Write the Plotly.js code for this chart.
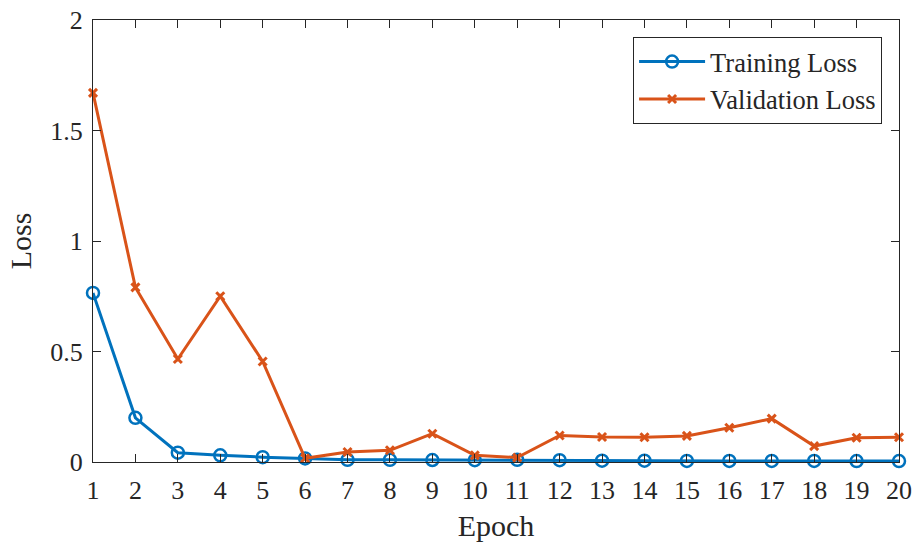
<!DOCTYPE html>
<html>
<head>
<meta charset="utf-8">
<script src="https://cdn.plot.ly/plotly-3.0.1.min.js"></script>
<style>html,body{margin:0;padding:0;background:#fff;}#chart{width:919px;height:548px;}</style>
</head>
<body>
<div id="chart"></div>
<script>
const epochs = [1,2,3,4,5,6,7,8,9,10,11,12,13,14,15,16,17,18,19,20];
const trainingLoss = [0.765,0.20,0.042,0.03,0.022,0.016,0.01,0.01,0.009,0.008,0.01,0.008,0.006,0.006,0.005,0.005,0.005,0.005,0.004,0.004];
const validationLoss = [1.67,0.79,0.466,0.75,0.455,0.017,0.045,0.053,0.128,0.03,0.02,0.12,0.113,0.112,0.118,0.155,0.196,0.072,0.11,0.112];
const xTicks = epochs;
const yTicks = [0,0.5,1,1.5,2];
const yTickText = ['0','0.5','1','1.5','2'];

const FONT = 'Liberation Serif, Times New Roman, serif';

const traces = [
  {
    x: epochs, y: trainingLoss, name: 'Training Loss', type: 'scatter', mode: 'lines+markers',
    line: {color: '#0072BD', width: 3},
    marker: {symbol: 'circle-open', size: 12, color: '#0072BD', line: {width: 2.5, color: '#0072BD'}},
    cliponaxis: false
  },
  {
    x: epochs, y: validationLoss, name: 'Validation Loss', type: 'scatter', mode: 'lines+markers',
    line: {color: '#D95319', width: 3},
    marker: {symbol: 'x-thin', size: 8, color: '#D95319', line: {width: 3, color: '#D95319'}},
    cliponaxis: false
  }
];

const layout = {
  width: 919, height: 548,
  margin: {l: 93, r: 20, t: 20, b: 86},
  paper_bgcolor: '#fff', plot_bgcolor: '#fff',
  font: {family: FONT, size: 26, color: '#262626'},
  showlegend: true,
  legend: {
    x: 0.979, y: 0.962, xanchor: 'right', yanchor: 'top',
    bgcolor: '#fff', bordercolor: '#262626', borderwidth: 1,
    font: {family: FONT, size: 26.5, color: '#262626'},
    itemwidth: 66,
    tracegroupgap: 0
  },
  xaxis: {
    range: [1, 20], tickmode: 'array', tickvals: xTicks, ticktext: xTicks.map(String),
    ticks: 'inside', ticklen: 8, tickwidth: 1, tickcolor: '#262626',
    showline: true, linecolor: '#262626', linewidth: 1, mirror: 'ticks',
    showgrid: false, zeroline: false, ticklabelstandoff: 5,
    tickfont: {family: FONT, size: 26, color: '#262626'},
    title: {text: 'Epoch', font: {family: FONT, size: 30, color: '#262626'}, standoff: 10}
  },
  yaxis: {
    range: [0, 2], tickmode: 'array', tickvals: yTicks, ticktext: yTickText,
    ticks: 'inside', ticklen: 8, tickwidth: 1, tickcolor: '#262626',
    showline: true, linecolor: '#262626', linewidth: 1, mirror: 'ticks',
    showgrid: false, zeroline: false, ticklabelstandoff: 4,
    tickfont: {family: FONT, size: 26, color: '#262626'},
    title: {text: 'Loss', font: {family: FONT, size: 30, color: '#262626'}, standoff: 9}
  }
};

Plotly.newPlot('chart', traces, layout, {displayModeBar: false, staticPlot: true});
</script>
</body>
</html>
